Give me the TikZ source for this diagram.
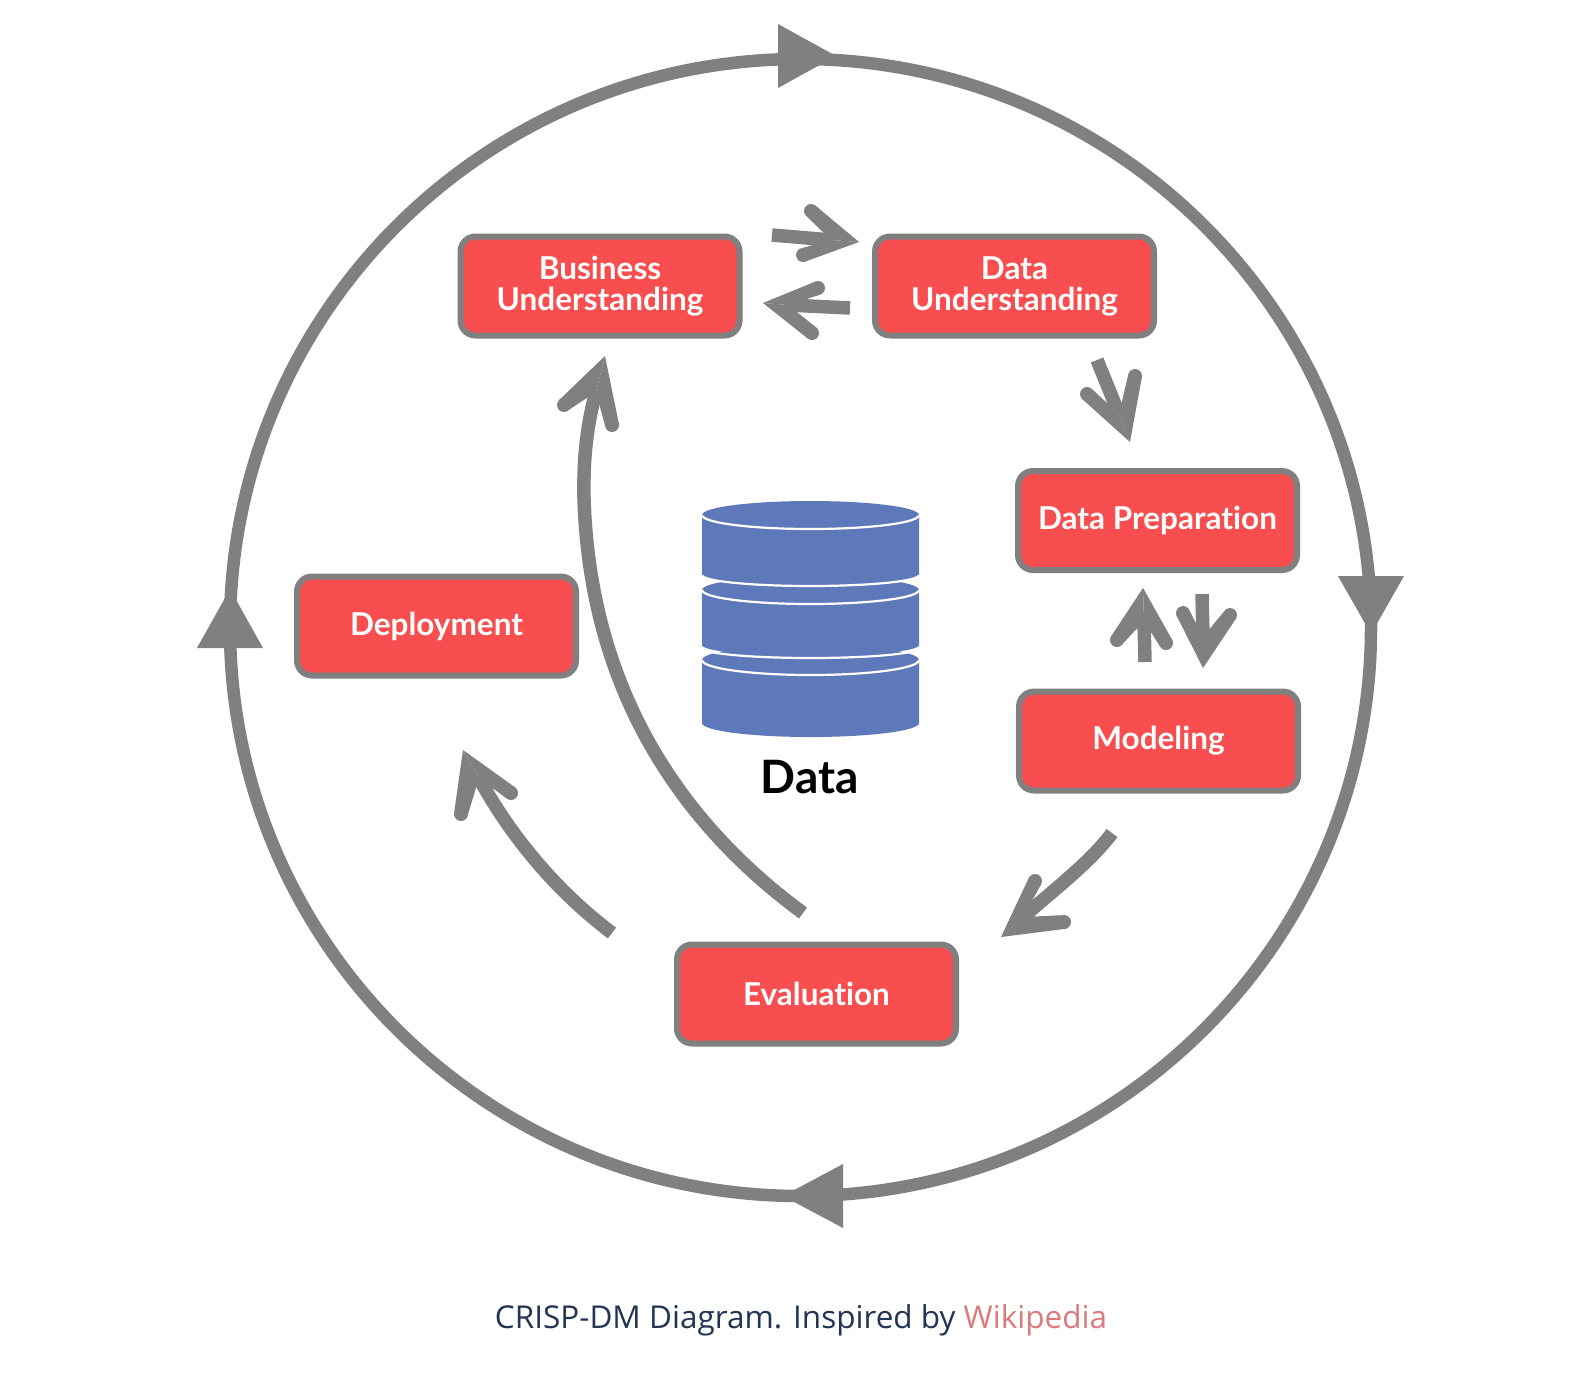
\documentclass[tikz,border=0pt]{standalone}
\usepackage{fontspec}
\usetikzlibrary{calc}
\setmainfont{Lato}[Ligatures=NoCommon]
\newfontfamily\capfont{Open Sans}
\definecolor{arrowgray}{HTML}{808080}
\definecolor{boxred}{HTML}{F84E50}
\definecolor{dbblue}{HTML}{5E79BA}
\definecolor{captxt}{HTML}{233554}
\definecolor{caplink}{HTML}{DB7B7B}
\tikzset{
  stagebox/.style={draw=arrowgray,fill=boxred,line width=6pt,rounded corners=15pt,
    minimum width=279pt,minimum height=99pt,inner sep=0pt,align=center,text=white,
    font=\fontsize{31.5}{31}\selectfont\bfseries},
  shaft/.style={draw=arrowgray,line width=13.5pt,line cap=butt},
  ring/.style={draw=arrowgray,line width=12.5pt},
  ringhead/.style={fill=arrowgray},
  dbline/.style={draw=white,line width=2.2pt},
  dbfill/.style={fill=dbblue}
}
% tip, left barb, right barb (seen along the arrow's direction), throat
\newcommand{\handhead}[4]{%
  \fill[arrowgray] (#2) circle[radius=7pt] (#3) circle[radius=7pt];
  \fill[arrowgray] (#1) -- ($(#2)!7pt!90:(#1)$) -- ($(#2)!7pt!-90:(#1)$) -- (#4) -- cycle;
  \fill[arrowgray] (#1) -- ($(#3)!7pt!-90:(#1)$) -- ($(#3)!7pt!90:(#1)$) -- (#4) -- cycle;
}
% top y, bottom side y, top ry, bottom ry
\newcommand{\dbdisc}[4]{%
  \fill[dbfill] (702,#1) -- (702,#2) arc[start angle=180,end angle=0,x radius=108.5,y radius=#4] -- (919,#1) arc[start angle=0,end angle=-180,x radius=108.5,y radius=#3] -- cycle;
  \draw[dbline] (702,#1) arc[start angle=180,end angle=0,x radius=108.5,y radius=#3];
}
\begin{document}
\begin{tikzpicture}[x=1pt,y=-1pt]
\useasboundingbox[fill=white] (0,0) rectangle (1594,1384);
% outer ring
\draw[ring] (800.5,627.5) ellipse[x radius=570.5,y radius=568.5];
\fill[ringhead] (778,24) -- (836,56) -- (778,88) -- cycle;
\fill[ringhead] (1338,576) -- (1404,576) -- (1371,634) -- cycle;
\fill[ringhead] (843,1164) -- (783,1196) -- (843,1228) -- cycle;
\fill[ringhead] (197,648) -- (263,648) -- (230,589) -- cycle;
% stages
\node[stagebox] (bu) at (600,286) {Business\\Understanding};
\node[stagebox] (du) at (1014.5,286) {Data\\Understanding};
\node[stagebox] (dp) at (1157.5,520.5) {\raisebox{-1pt}{Data Preparation}};
\node[stagebox] (mo) at (1158.5,741) {\raisebox{-1pt}{Modeling}};
\node[stagebox] (ev) at (816.5,994) {Evaluation};
\node[stagebox] (de) at (436.5,626) {Deployment};
% BU -> DU
\coordinate (a1s) at (772,235); \coordinate (a1t) at (859,242); \coordinate (a1a) at (811,211); \coordinate (a1b) at (803,255); \coordinate (a1n) at (831,240);
\draw[shaft] (a1s) -- (a1n);
\handhead{a1t}{a1a}{a1b}{a1n}
% DU -> BU
\coordinate (a2s) at (850,308); \coordinate (a2t) at (763,303); \coordinate (a2a) at (812,333); \coordinate (a2b) at (818,288); \coordinate (a2n) at (788,305);
\draw[shaft] (a2s) -- (a2n);
\handhead{a2t}{a2a}{a2b}{a2n}
% DU -> DP
\coordinate (a3s) at (1097,360); \coordinate (a3t) at (1130,442); \coordinate (a3a) at (1135,376); \coordinate (a3b) at (1087,394); \coordinate (a3n) at (1119,414);
\draw[shaft] (a3s) -- (a3n);
\handhead{a3t}{a3a}{a3b}{a3n}
% MO -> DP
\coordinate (a4s) at (1145,662); \coordinate (a4t) at (1143,588); \coordinate (a4a) at (1117,640); \coordinate (a4b) at (1166,643); \coordinate (a4n) at (1144,621);
\draw[shaft] (a4s) -- (a4n);
\handhead{a4t}{a4a}{a4b}{a4n}
% DP -> MO
\coordinate (a5s) at (1202,594); \coordinate (a5t) at (1203,668); \coordinate (a5a) at (1230,615); \coordinate (a5b) at (1183,613); \coordinate (a5n) at (1203,637);
\draw[shaft] (a5s) -- (a5n);
\handhead{a5t}{a5a}{a5b}{a5n}
% MO -> EV
\coordinate (a6s) at (1112,833); \coordinate (a6t) at (1001,937); \coordinate (a6a) at (1064,922); \coordinate (a6b) at (1035,881); \coordinate (a6n) at (1023,917);
\draw[shaft] (a6s) .. controls (1092,860) and (1060,885) .. (a6n);
\handhead{a6t}{a6a}{a6b}{a6n}
% EV -> DE
\coordinate (a7s) at (612,933); \coordinate (a7t) at (463,750); \coordinate (a7a) at (461,814); \coordinate (a7b) at (511,793); \coordinate (a7n) at (479,778);
\draw[shaft] (a7s) .. controls (555,890) and (510,835) .. (a7n);
\handhead{a7t}{a7a}{a7b}{a7n}
% EV -> BU
\coordinate (a8s) at (803,913); \coordinate (a8t) at (605,356); \coordinate (a8a) at (564,405); \coordinate (a8b) at (612,425); \coordinate (a8n) at (596,392);
\draw[shaft] (a8s) .. controls (690,830) and (590,700) .. (584,498) .. controls (583,455) and (588,420) .. (a8n);
\handhead{a8t}{a8a}{a8b}{a8n}
% database
\dbdisc{660}{723}{15}{14}
\dbdisc{590}{645}{14}{11}
\draw[dbline] (702,648) arc[start angle=180,end angle=0,x radius=108.5,y radius=10];
\dbdisc{515}{575}{14}{11}
\draw[dbline] (702,575) arc[start angle=180,end angle=0,x radius=108.5,y radius=11];
\node[font=\fontsize{46}{48}\selectfont\bfseries,text=black,inner sep=0pt] (dat) at (809.5,777) {Data};
% caption
\node[font=\capfont\fontsize{31.5}{36}\selectfont,text=captxt,inner sep=0pt,anchor=base] (cap) at (801,1328) {CRISP-DM Diagram. Inspired by \textcolor{caplink}{Wikipedia}};
\end{tikzpicture}
\end{document}
